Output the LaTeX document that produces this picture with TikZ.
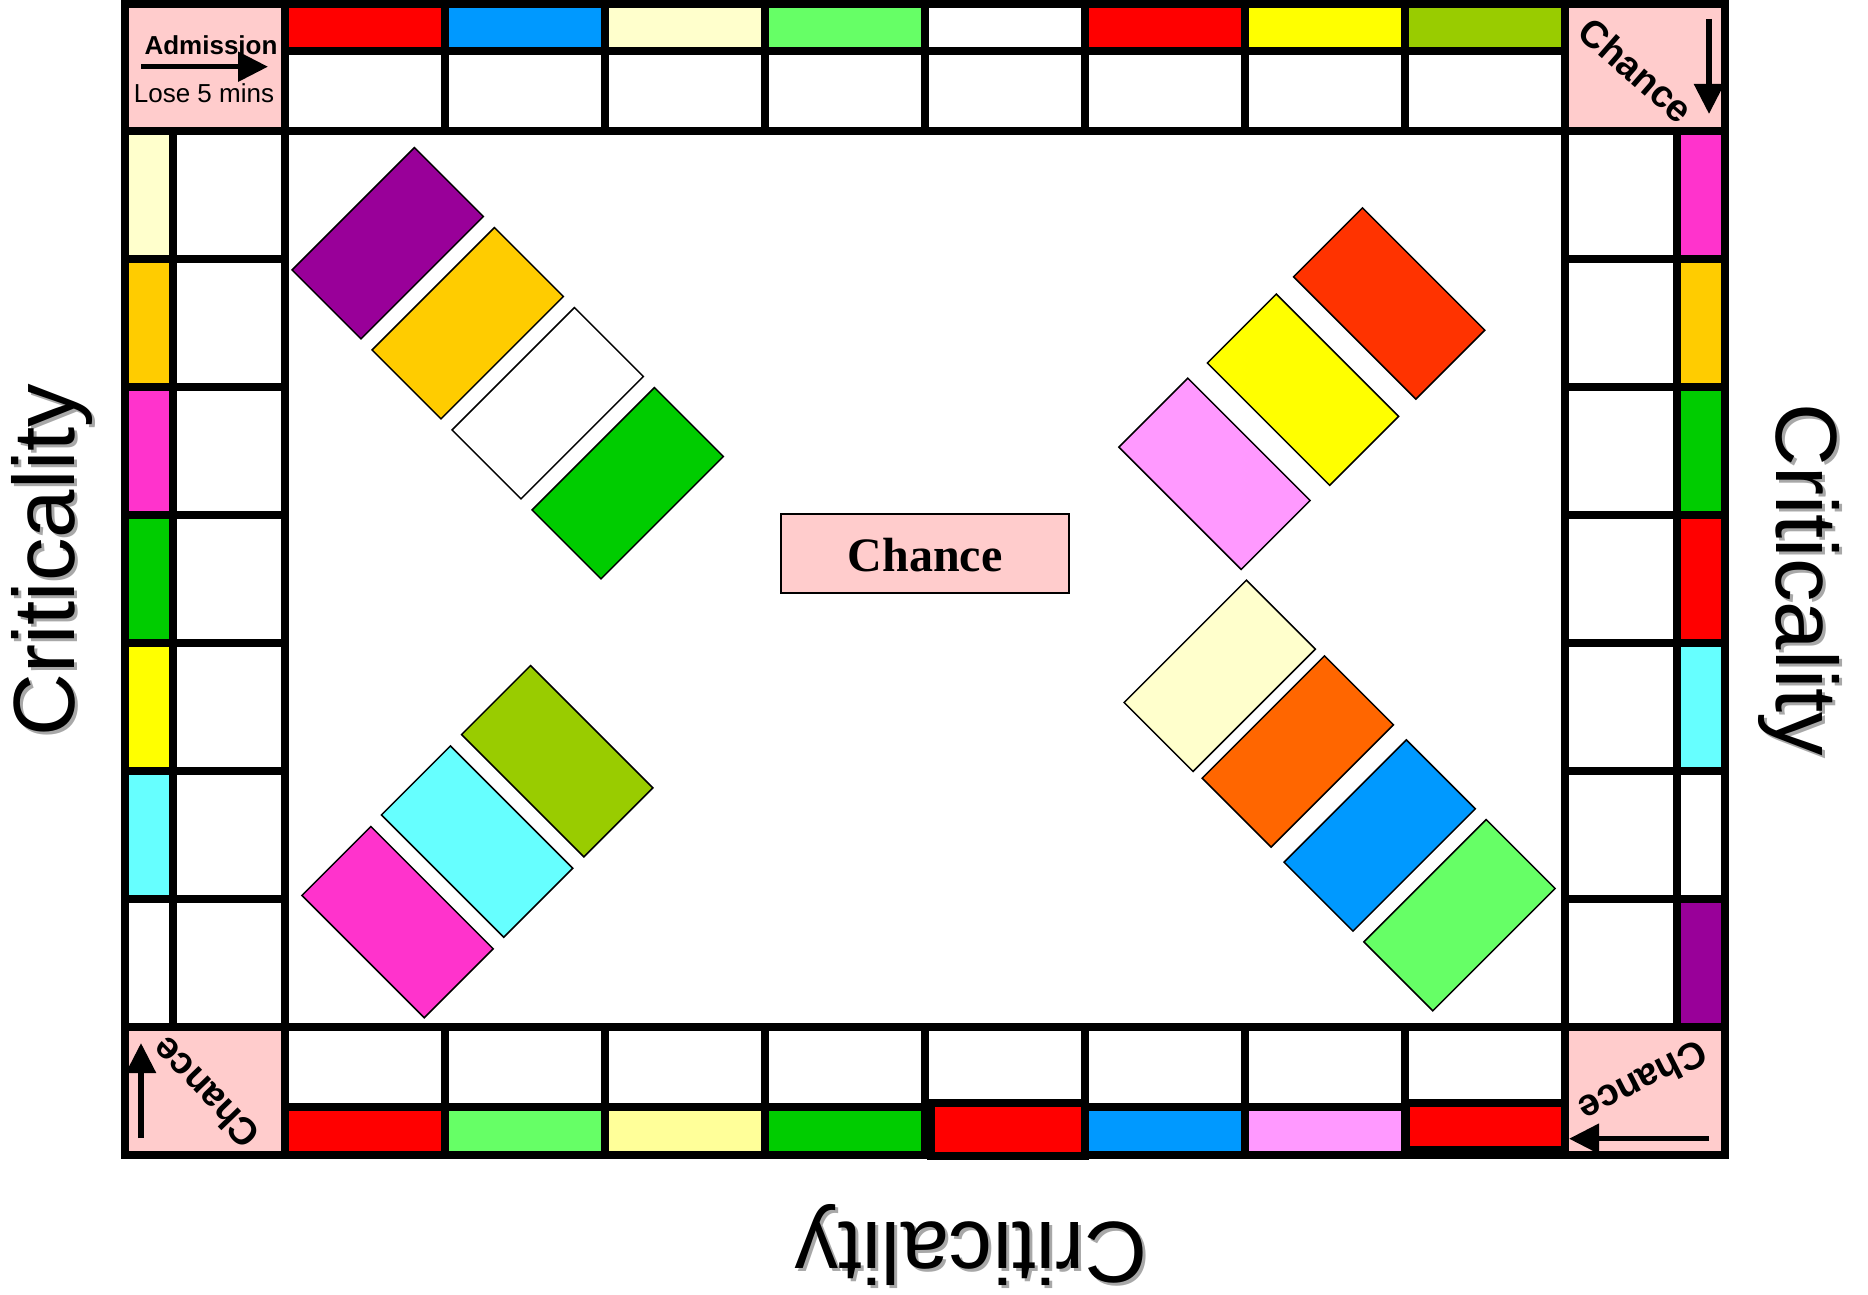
\documentclass[tikz,border=0pt]{standalone}
\usepackage{fontspec}
\setmainfont{Liberation Sans}
\newfontfamily\serifb{Liberation Serif}
\usetikzlibrary{arrows.meta}
\definecolor{cpink}{HTML}{FFCCCC}
\definecolor{cred}{HTML}{FF0000}
\definecolor{cblue}{HTML}{0099FF}
\definecolor{cpaley}{HTML}{FFFFCC}
\definecolor{cpaley2}{HTML}{FFFF99}
\definecolor{clgreen}{HTML}{66FF66}
\definecolor{cyellow}{HTML}{FFFF00}
\definecolor{colive}{HTML}{99CC00}
\definecolor{cgreen}{HTML}{00CC00}
\definecolor{cmag}{HTML}{FF33CC}
\definecolor{cgold}{HTML}{FFCC00}
\definecolor{ccyan}{HTML}{66FFFF}
\definecolor{cpurple}{HTML}{990099}
\definecolor{cpinkl}{HTML}{FF99FF}
\definecolor{credor}{HTML}{FF3300}
\definecolor{corange}{HTML}{FF6600}
\definecolor{cshadow}{HTML}{A8A8A8}
\begin{document}
\begin{tikzpicture}[x=1pt,y=-1pt,
  gridline/.style={line width=8pt, draw=black},
  card/.style={draw=black, line width=1.5pt, inner sep=0pt, outer sep=0pt,
    minimum width=173pt, minimum height=97.5pt},
  arr/.style={line width=5.5pt, -{Triangle[length=30pt,width=29pt]}},
  crit/.style={font=\fontsize{87}{90}\selectfont, inner sep=0pt, anchor=base},
  chc/.style={font=\fontsize{38}{40}\selectfont\bfseries, inner sep=0pt}
]
\useasboundingbox (0,0) rectangle (1868,1295);
\fill[white] (0,0) rectangle (1868,1295);

% corners
\fill[cpink] (125,4) rectangle (285,131);
\fill[cpink] (1565,4) rectangle (1725,131);
\fill[cpink] (125,1027) rectangle (285,1155);
\fill[cpink] (1565,1027) rectangle (1725,1155);

% colour strips
\foreach \c [count=\i from 0] in {cred,cblue,cpaley,clgreen,white,cred,cyellow,colive}
  \fill[\c] ({285+160*\i},4) rectangle ({445+160*\i},51);
\foreach \c [count=\i from 0] in {cred,clgreen,cpaley2,cgreen,cred,cblue,cpinkl,cred}
  \fill[\c] ({285+160*\i},1107) rectangle ({445+160*\i},1155);
\foreach \c [count=\i from 0] in {cpaley,cgold,cmag,cgreen,cyellow,ccyan,white}
  \fill[\c] (125,{131+128*\i}) rectangle (173,{259+128*\i});
\foreach \c [count=\i from 0] in {cmag,cgold,cgreen,cred,ccyan,white,cpurple}
  \fill[\c] (1677,{131+128*\i}) rectangle (1725,{259+128*\i});

% grid lines
\draw[gridline] (125,4) rectangle (1725,1155);
\draw[gridline] (285,4) -- (285,1155);
\draw[gridline] (1565,4) -- (1565,1155);
\draw[gridline] (125,131) -- (1725,131);
\draw[gridline] (125,1027) -- (1725,1027);
\draw[gridline] (285,51) -- (1565,51);
\draw[gridline] (285,1107) -- (1565,1107);
\draw[gridline] (173,131) -- (173,1027);
\draw[gridline] (1677,131) -- (1677,1027);
\foreach \x in {445,605,...,1405} {
  \draw[gridline] (\x,4) -- (\x,131);
  \draw[gridline] (\x,1027) -- (\x,1155);
}
\foreach \y in {259,387,...,899} {
  \draw[gridline] (125,\y) -- (285,\y);
  \draw[gridline] (1565,\y) -- (1725,\y);
}
% boxed red cells in bottom row
\draw[line width=8pt, fill=cred] (931,1102.5) rectangle (1085,1156);
\draw[line width=8pt, fill=cred] (1405.5,1102.5) rectangle (1565,1150);

% diagonal cards
\node[card, fill=cpurple, rotate=45] (ul1) at (387.7,243.2) {};
\node[card, fill=cgold,   rotate=45] (ul2) at (467.7,323.2) {};
\node[card, fill=white,   rotate=45] (ul3) at (547.7,403.2) {};
\node[card, fill=cgreen,  rotate=45] (ul4) at (627.7,483.2) {};

\node[card, fill=colive, rotate=-45] (ll1) at (557.2,761.2) {};
\node[card, fill=ccyan,  rotate=-45] (ll2) at (477.1,841.6) {};
\node[card, fill=cmag,   rotate=-45] (ll3) at (397.6,922.1) {};

\node[card, fill=credor,  rotate=-45] (ur1) at (1389.2,303.5) {};
\node[card, fill=cyellow, rotate=-45] (ur2) at (1303,389.7) {};
\node[card, fill=cpinkl,  rotate=-45] (ur3) at (1214.5,473.8) {};

\node[card, fill=cpaley,  rotate=45] (lr1) at (1219.7,675.8) {};
\node[card, fill=corange, rotate=45] (lr2) at (1297.8,751.5) {};
\node[card, fill=cblue,   rotate=45] (lr3) at (1379.7,835.5) {};
\node[card, fill=clgreen, rotate=45] (lr4) at (1459.5,915.2) {};

% central chance
\node[draw=black, line width=2pt, fill=cpink, minimum width=288pt, minimum height=79pt,
  inner sep=0pt] (chance) at (925,553.5) {};
\node[font=\serifb\fontsize{48}{50}\selectfont\bfseries, inner sep=0pt, anchor=base] (chancet) at (925,571.5) {Chance};

% admission corner
\node[font=\fontsize{26}{28}\selectfont\bfseries, inner sep=0pt, anchor=base] (adm) at (211,54.3) {Admission};
\node[font=\fontsize{26}{28}\selectfont, inner sep=0pt, anchor=base] (lose) at (204,102.7) {Lose 5 mins};
\coordinate (a0) at (141,66.7);
\coordinate (a1) at (268,66.7);
\draw[arr] (a0) -- (a1);

% chance corners
\node[chc, rotate=-41] (chTR) at (1636,70) {Chance};
\coordinate (b0) at (1709,19);
\coordinate (b1) at (1709,114);
\draw[arr] (b0) -- (b1);

\node[chc, rotate=207] (chBR) at (1643,1082) {Chance};
\coordinate (c0) at (1709,1138.7);
\coordinate (c1) at (1569,1138.7);
\draw[arr] (c0) -- (c1);

\node[chc, rotate=134] (chBL) at (205.5,1093) {Chance};
\coordinate (d0) at (141,1138);
\coordinate (d1) at (141,1043);
\draw[arr] (d0) -- (d1);

% criticality labels
\node[crit, text=cshadow, rotate=90] (critLs) at (77,563) {Criticality};
\node[crit, rotate=90] (critL) at (74,560) {Criticality};
\node[crit, text=cshadow, rotate=-90] (critRs) at (1779,583) {Criticality};
\node[crit, rotate=-90] (critR) at (1776,580) {Criticality};
\node[crit, text=cshadow, rotate=180] (critBs) at (974,1225) {Criticality};
\node[crit, rotate=180] (critB) at (971,1222) {Criticality};
\end{tikzpicture}
\end{document}
